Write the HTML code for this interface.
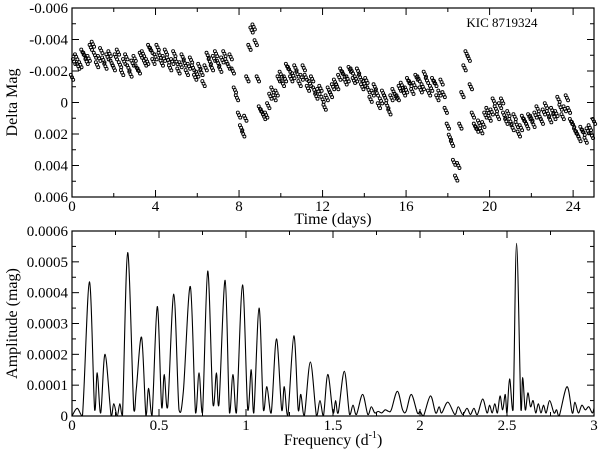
<!DOCTYPE html>
<html><head><meta charset="utf-8"><style>
body{margin:0;background:#fff}
svg{display:block}
text{font-family:"Liberation Serif","DejaVu Serif",serif}
</style></head><body>
<svg id="c" width="600" height="453" xmlns="http://www.w3.org/2000/svg"></svg>
<script>
// Top light curve: time cadence 0.1 d, delta mag in units of 0.001
const lcStart = 0, lcStep = 0.1;
const lcMag = [-1.6,
-2.6,-2.9,-2.3,-2.4,-3.2,-3.0,-2.6,-2.8,-3.5,-3.7,
-3.0,-2.4,-2.8,-3.3,-2.7,-2.3,-2.9,-3.1,-2.5,-2.2,
-2.9,-3.2,-2.4,-1.9,-2.6,-2.9,-2.2,-1.8,-2.5,-2.8,
-2.2,-2.0,-3.0,-3.1,-2.5,-2.6,-3.5,-3.3,-2.6,-2.9,
-3.5,-3.0,-2.5,-2.8,-3.2,-2.7,-2.2,-2.6,-3.1,-2.6,
-2.0,-2.4,-2.9,-2.5,-1.9,-2.3,-2.7,-2.2,-1.6,-1.8,
-2.3,-1.9,-1.2,-2.2,-3.0,-2.6,-2.2,-2.8,-3.1,-2.5,
-2.1,-2.7,-3.1,-2.6,-2.3,-2.9,-2.0,-0.8,-0.3,0.8,
1.6,2.0,1.0,-1.5,-3.5,-4.6,-4.8,-3.8,-1.5,0.4,
0.6,0.9,0.8,0.2,-0.4,-0.8,-0.3,-0.6,-1.5,-1.8,
-1.2,-1.5,-2.3,-2.1,-1.5,-1.7,-2.2,-1.8,-1.2,-1.6,
-2.2,-1.6,-0.9,-1.2,-1.5,-0.8,-0.4,-0.7,-0.9,-0.2,
0.3,-0.3,-0.8,-0.5,-1.0,-1.3,-1.0,-1.6,-2.0,-1.8,
-1.3,-1.5,-2.1,-2.0,-1.4,-1.5,-2.0,-1.6,-1.0,-1.2,
-1.4,-0.8,-0.2,-0.6,-1.0,-0.6,0.2,-0.1,-0.6,-0.3,
0.2,0.6,-0.3,-0.7,-0.4,-0.3,-0.9,-1.1,-0.6,-0.8,
-1.4,-1.2,-0.7,-1.1,-1.6,-1.5,-0.8,-1.0,-1.8,-1.4,
-0.6,-0.9,-1.4,-1.2,-0.3,-0.6,-1.3,-0.5,0.5,1.5,
2.2,2.6,3.8,4.8,4.0,1.5,-0.5,-2.2,-3.1,-2.8,
-1.0,0.8,1.5,1.7,1.3,1.8,1.4,0.8,0.5,1.0,
0.6,-0.1,0.4,0.9,0.2,-0.1,0.8,1.2,0.7,1.2,
1.6,0.9,1.4,2.0,1.6,1.0,1.2,1.5,0.9,1.0,
1.4,0.8,0.4,0.9,1.2,0.6,0.2,0.7,1.1,0.5,
0.9,0.7,-0.2,0.3,0.9,0.4,-0.3,0.5,1.2,1.4,
1.8,2.0,2.3,1.7,1.9,2.4,1.8,1.6,2.1,1.2];
const topXTicks = [0,4,8,12,16,20,24];
const topYTicks = [-0.006,-0.004,-0.002,0,0.002,0.004,0.006];
const topYLabels = ["-0.006","-0.004","-0.002","0","0.002","0.004","0.006"];
// Bottom periodogram vertices (freq d^-1, amplitude in 1e-4 mag)
const pgFreq = [0,0.03,0.06,0.1,0.13,0.145,0.165,0.19,0.225,0.24,0.26,0.275,0.29,0.32,0.355,0.37,0.4,0.425,0.44,0.46,0.49,0.515,0.53,0.55,0.585,0.615,0.64,0.68,0.71,0.73,0.75,0.78,0.81,0.83,0.845,0.88,0.905,0.925,0.945,0.98,1.01,1.03,1.045,1.075,1.1,1.12,1.145,1.175,1.205,1.22,1.24,1.275,1.3,1.315,1.335,1.37,1.405,1.425,1.445,1.47,1.5,1.515,1.53,1.565,1.595,1.615,1.635,1.67,1.7,1.72,1.74,1.76,1.78,1.8,1.82,1.835,1.87,1.9,1.92,1.95,1.985,2.0,2.02,2.06,2.09,2.11,2.125,2.16,2.2,2.22,2.245,2.27,2.29,2.31,2.33,2.36,2.385,2.4,2.415,2.43,2.445,2.46,2.475,2.49,2.5,2.515,2.535,2.555,2.58,2.59,2.605,2.62,2.635,2.65,2.665,2.68,2.695,2.71,2.725,2.745,2.77,2.785,2.8,2.845,2.875,2.89,2.91,2.93,2.95,2.97,2.99,3.0];
const pgAmp = [0,0.25,0,4.35,0.2,1.4,0.1,2.0,0,0.4,0,0.4,0,5.3,0.2,0.9,2.55,0,0.9,0,3.55,0.3,1.35,0.3,3.95,0.2,0.8,4.2,0.1,1.4,0.1,4.7,0.4,1.4,0.4,4.4,0.1,1.35,0.1,4.25,0.2,1.5,0.1,3.5,0.2,0.95,0.1,2.5,0.2,0.95,0,2.6,0.2,0.7,0,1.75,0,0.5,0,1.35,0.1,0.5,0.1,1.45,0.05,0.35,0.05,0.7,0.05,0.3,0.1,0.15,0.1,0.2,0.15,0.2,0.8,0.2,0.15,0.7,0.1,0.15,0,0.65,0.1,0.3,0.1,0.45,0.05,0.3,0.05,0.25,0.05,0.25,0.05,0.55,0.1,0.35,0.1,0.4,0.1,0.65,0.2,0.7,0.1,1.2,0.2,5.6,0.2,1.25,0.2,0.75,0.3,0.5,0.1,0.4,0.1,0.35,0.1,0.5,0.1,0.2,0,0.95,0.1,0.45,0.1,0.35,0.2,0.3,0.1,0.25];
const botXTicks = [0,0.5,1,1.5,2,2.5,3];
const botXLabels = ["0","0.5","1","1.5","2","2.5","3"];
const botYTicks = [0,0.0001,0.0002,0.0003,0.0004,0.0005,0.0006];
const botYLabels = ["0","0.0001","0.0002","0.0003","0.0004","0.0005","0.0006"];

const svg = document.getElementById('c');
const NS = 'http://www.w3.org/2000/svg';
const FONT = '"Liberation Serif","DejaVu Serif",serif';
function mk(tag, attrs, parent){const e=document.createElementNS(NS,tag);for(const k in attrs)e.setAttribute(k,attrs[k]);if(tag==='text')e.setAttribute('font-family',FONT);(parent||svg).appendChild(e);return e;}

const L=72,R=594;
const T1=8,B1=197,T2=231,B2=416;
const x1=t=>L+(t-0)/25*(R-L);
const y1=v=>T1+(v+0.006)/0.012*(B1-T1);
const x2=f=>L+f/3*(R-L);
const y2=a=>B2-a/0.0006*(B2-T2);

function frame(top,bottom,name){
  const r=mk('rect',{x:L,y:top,width:R-L,height:bottom-top,fill:'none',stroke:'#000','stroke-width':1.2});
  
  
}
function tickText(x,y,txt,anchor,name){
  const t=mk('text',{x:x,y:y,'font-size':15,'text-anchor':anchor,fill:'#000'});
  t.textContent=txt;
  
  
}

// ---- top panel
frame(T1,B1,'light-curve-frame');
const g1=mk('g',{});


for(let t=0;t<=25;t+=2){const maj=topXTicks.includes(t);const len=maj?7:4;const X=x1(t);
  mk('line',{x1:X,y1:B1,x2:X,y2:B1-len,stroke:'#000'},g1);mk('line',{x1:X,y1:T1,x2:X,y2:T1+len,stroke:'#000'},g1);}
for(let i=0;i<=12;i++){const v=-0.006+i*0.001;const maj=i%2===0;const len=maj?7:4;const Y=y1(v);
  mk('line',{x1:L,y1:Y,x2:L+len,y2:Y,stroke:'#000'},g1);mk('line',{x1:R,y1:Y,x2:R-len,y2:Y,stroke:'#000'},g1);}
topXTicks.forEach(t=>tickText(x1(t),B1+14,String(t),'middle','x-tick-label'));
topYTicks.forEach((v,i)=>tickText(L-4,y1(v)+5,topYLabels[i],'end','y-tick-label'));
const pts=mk('g',{fill:'none',stroke:'#000','stroke-width':0.9});


// each sample drawn as a small cluster of open circles representing scatter band
const spreadPx=[-2.5,0,2.5];
const spreadDx=[-1.2,0,1.2];
lcMag.forEach((m,i)=>{
  const cx=x1(lcStart+i*lcStep), cy=y1(m*0.001);
  spreadPx.forEach((dy,k)=>{
    const c=mk('circle',{cx:cx+spreadDx[k],cy:cy+dy,r:1.5},pts);
    
    
  });
});
const lab=mk('text',{x:502,y:27,'font-size':13,'text-anchor':'middle'});lab.textContent='KIC 8719324';


const xt1=mk('text',{x:(L+R)/2,y:224,'font-size':16,'text-anchor':'middle'});xt1.textContent='Time (days)';


const yt1=mk('text',{x:0,y:0,'font-size':16,'text-anchor':'middle',transform:`translate(17,${(T1+B1)/2}) rotate(-90)`});yt1.textContent='Delta Mag';



// ---- bottom panel
frame(T2,B2,'periodogram-frame');
const g2=mk('g',{});


for(let i=0;i<=12;i++){const f=i*0.25;const maj=i%2===0;const len=maj?7:4;const X=x2(f);
  mk('line',{x1:X,y1:B2,x2:X,y2:B2-len,stroke:'#000'},g2);mk('line',{x1:X,y1:T2,x2:X,y2:T2+len,stroke:'#000'},g2);}
for(let i=0;i<=12;i++){const a=i*0.00005;const maj=i%2===0;const len=maj?7:4;const Y=y2(a);
  mk('line',{x1:L,y1:Y,x2:L+len,y2:Y,stroke:'#000'},g2);mk('line',{x1:R,y1:Y,x2:R-len,y2:Y,stroke:'#000'},g2);}
botXTicks.forEach((f,i)=>tickText(x2(f),B2+14,botXLabels[i],'middle','x-tick-label'));
botYTicks.forEach((a,i)=>tickText(L-4,y2(a)+5,botYLabels[i],'end','y-tick-label'));
const P=pgFreq.map((f,i)=>[x2(f),y2(pgAmp[i]*1e-4)]);
let d=`M${P[0][0]},${P[0][1]}`;
for(let i=0;i<P.length-1;i++){const p0=P[Math.max(0,i-1)],p1=P[i],p2=P[i+1],p3=P[Math.min(P.length-1,i+2)];
  const c1x=p1[0]+(p2[0]-p0[0])/6,c1y=Math.min(B2,p1[1]+(p2[1]-p0[1])/6);
  const c2x=p2[0]-(p3[0]-p1[0])/6,c2y=Math.min(B2,p2[1]-(p3[1]-p1[1])/6);
  d+=` C${c1x},${c1y} ${c2x},${c2y} ${p2[0]},${p2[1]}`;}
const line=mk('path',{d:d,fill:'none',stroke:'#000','stroke-width':1.1});


const xt2=mk('text',{x:(L+R)/2,y:445,'font-size':16,'text-anchor':'middle'});
xt2.innerHTML='Frequency (d<tspan font-size="10" dy="-7">-1</tspan><tspan dy="7">)</tspan>';


const yt2=mk('text',{x:0,y:0,'font-size':16,'text-anchor':'middle',transform:`translate(17,${(T2+B2)/2}) rotate(-90)`});yt2.textContent='Amplitude (mag)';


</script>
</body></html>
